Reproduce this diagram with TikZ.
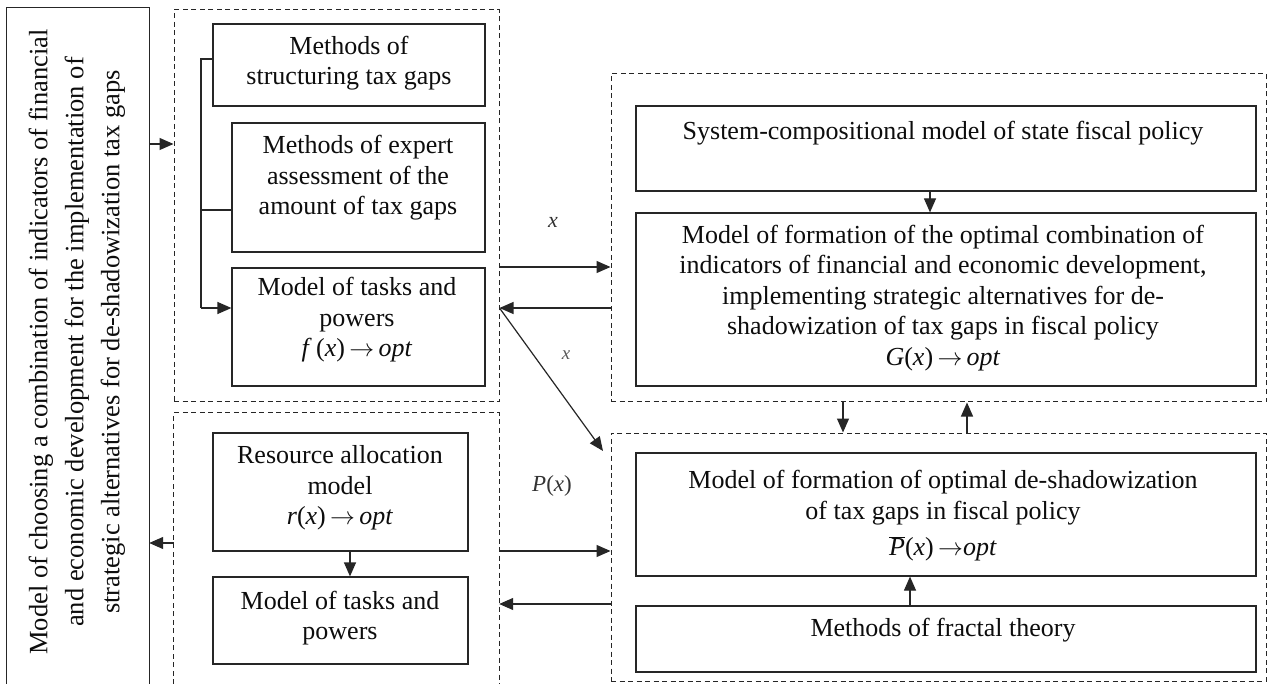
\documentclass[tikz,border=0pt]{standalone}
\usepackage{fontspec}
\setmainfont{Liberation Serif}
\usetikzlibrary{arrows.meta}
\begin{document}
\begin{tikzpicture}[x=1pt,y=-1pt,
 box/.style={draw=black!85, line width=1.2pt, rectangle, inner sep=0pt},
 grp/.style={draw=black!85, line width=1pt, dash pattern=on 5pt off 3.5pt, rectangle, inner sep=0pt},
 dsh/.style={draw=black!85, line width=1pt, dash pattern=on 5pt off 3.5pt},
 hold/.style={rectangle, inner sep=0pt, draw=none},
 txt/.style={align=center, font=\fontsize{26}{30.5}\selectfont, inner sep=0pt, text=black!95},
 arr/.style={line width=1.2pt, draw=black!85, -{Triangle[length=14pt,width=12pt]}},
 ln/.style={line width=1.2pt, draw=black!85},
 lbl/.style={font=\fontsize{22}{24}\selectfont, inner sep=0pt, text=black!80}]
\useasboundingbox[fill=white] (0,0) rectangle (1269,684);

% left main box (open at bottom)
\node[hold, minimum width=142pt, minimum height=676pt] (L) at (78,346) {};
\draw[ln] (L.south east) -- (L.north east) -- (L.north west) -- (L.south west);
\node[txt, rotate=90, font=\fontsize{26.5}{36}\selectfont] (Lt) at (77,342)
 {Model of choosing a combination of indicators of financial\\
  and economic development for the implementation of\\
  strategic alternatives for de-shadowization tax gaps};

% groups
\node[grp, minimum width=325pt, minimum height=392pt] (G1) at (336.5,206) {};
\node[hold, minimum width=325pt, minimum height=271pt] (G2) at (336.5,548.5) {};
\draw[dsh] (G2.south west) -- (G2.north west) -- (G2.north east) -- (G2.south east);
\node[grp, minimum width=655pt, minimum height=328pt] (G3) at (938.5,238) {};
\node[grp, minimum width=655pt, minimum height=248pt] (G4) at (938.5,557) {};

% boxes
\node[box, minimum width=272pt, minimum height=82pt] (B1) at (349,65) {};
\node[box, minimum width=253pt, minimum height=129pt] (B2) at (358.5,187.5) {};
\node[box, minimum width=253pt, minimum height=118pt] (B3) at (358.5,327) {};
\node[box, minimum width=255pt, minimum height=118pt] (B4) at (340.5,492) {};
\node[box, minimum width=255pt, minimum height=87pt] (B5) at (340.5,620.5) {};
\node[box, minimum width=620pt, minimum height=85pt] (B6) at (946,148.5) {};
\node[box, minimum width=620pt, minimum height=173pt] (B7) at (946,299.5) {};
\node[box, minimum width=620pt, minimum height=123pt] (B8) at (946,514.5) {};
\node[box, minimum width=620pt, minimum height=66pt] (B9) at (946,639) {};

% texts
\node[txt] (T1) at (349,63) {Methods of\\ structuring tax gaps};
\node[txt] (T2) at (358,178) {Methods of expert\\ assessment of the\\ amount of tax gaps};
\node[txt] (T3) at (357,320) {Model of tasks and\\ powers\\ \textit{f}\,(\textit{x})\,$\rightarrow$\,\textit{opt}};
\node[txt] (T4) at (340,488) {Resource allocation\\ model\\ \textit{r}(\textit{x})\,$\rightarrow$\,\textit{opt}};
\node[txt] (T5) at (340,618) {Model of tasks and\\ powers};
\node[txt] (T6) at (943,133) {System-compositional model of state fiscal policy};
\node[txt] (T7) at (943,298) {Model of formation of the optimal combination of\\
 indicators of financial and economic development,\\
 implementing strategic alternatives for de-\\
 shadowization of tax gaps in fiscal policy\\
 \textit{G}(\textit{x})\,$\rightarrow$\,\textit{opt}};
\node[txt] (T8) at (943,516) {Model of formation of optimal de-shadowization\\
 of tax gaps in fiscal policy\\[6pt]
 $\overline{\mbox{\textit{P}}}$(\textit{x})\,$\rightarrow$\textit{opt}};
\node[txt] (T9) at (943,630) {Methods of fractal theory};

% labels
\node[lbl] (lx1) at (553,222) {\textit{x}};
\node[lbl, font=\fontsize{19}{20}\selectfont, text=black!65] (lx2) at (566,355) {\textit{x}};
\node[lbl, font=\fontsize{23}{24}\selectfont] (lP) at (552,486) {\textit{P}(\textit{x})};

% bracket in top-left group
\coordinate (br1) at (201,59);
\coordinate (br3) at (201,210);
\coordinate (br2) at (201,308);
\draw[ln] (B1.west |- br1) -- (br1) -- (br2);
\draw[ln] (br3) -- (B2.west |- br3);
\draw[arr] (br2) -- (B3.west |- br2);

% connectors
\draw[arr] (L.east |- 0,144) -- (G1.west |- 0,144);
\draw[arr] (G2.west |- 0,543) -- (L.east |- 0,543);
\draw[arr] (B4.south -| 350,0) -- (B5.north -| 350,0);
\draw[arr] (B6.south -| 930,0) -- (B7.north -| 930,0);
\draw[arr] (B9.north -| 910,0) -- (B8.south -| 910,0);
\draw[arr] (G3.south -| 843,0) -- (G4.north -| 843,0);
\draw[arr] (G4.north -| 967,0) -- (G3.south -| 967,0);
\draw[arr] (G1.east |- 0,267) -- (G3.west |- 0,267);
\draw[arr] (G3.west |- 0,308) -- (G1.east |- 0,308);
\coordinate (dg) at (603,451);
\draw[arr] (G1.east |- 0,308) -- (dg);
\draw[arr] (G2.east |- 0,551) -- (G4.west |- 0,551);
\draw[arr] (G4.west |- 0,604) -- (G2.east |- 0,604);
\end{tikzpicture}
\end{document}
